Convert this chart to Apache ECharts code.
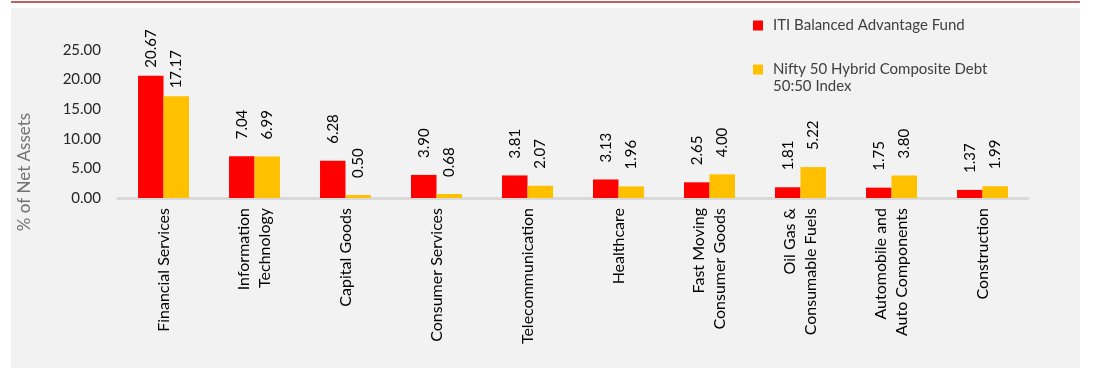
<!DOCTYPE html>
<html>
<head>
<meta charset="utf-8">
<script src="https://cdn.jsdelivr.net/npm/echarts@6/dist/echarts.min.js"></script>
<style>
html,body{margin:0;padding:0;background:#fff;}
#c{width:1094px;height:371px;}
</style>
</head>
<body>
<div id="c"></div>
<script>
const categories = [
  'Financial Services',
  'Information\nTechnology',
  'Capital Goods',
  'Consumer Services',
  'Telecommunication',
  'Healthcare',
  'Fast Moving\nConsumer Goods',
  'Oil Gas &\nConsumable Fuels',
  'Automobile and\nAuto Components',
  'Construction'
];
const fundName = 'ITI Balanced Advantage Fund';
const indexName = 'Nifty 50 Hybrid Composite Debt 50:50 Index';
const fundValues = [20.67, 7.04, 6.28, 3.90, 3.81, 3.13, 2.65, 1.81, 1.75, 1.37];
const indexValues = [17.17, 6.99, 0.50, 0.68, 2.07, 1.96, 4.00, 5.22, 3.80, 1.99];
const yTicks = [0, 5, 10, 15, 20, 25];

const FONT = 'Lato';
const chart = echarts.init(document.getElementById('c'), null, {renderer: 'canvas'});

function labelCfg() {
  return {
    show: true,
    position: 'top',
    rotate: 90,
    align: 'left',
    verticalAlign: 'middle',
    distance: 17,
    fontFamily: FONT,
    fontSize: 15,
    color: '#000',
    formatter: p => p.value.toFixed(2)
  };
}

function items(vals) {
  return vals.map((v, i) => i === 0 ? {value: v, label: {distance: 8}} : {value: v});
}

const legendText = {fontFamily: FONT, fontSize: 15, color: '#404040', lineHeight: 17};

chart.setOption({
  animation: false,
  graphic: [
    {type: 'rect', silent: true, z: -10, shape: {x: 11, y: 8, width: 1069, height: 360}, style: {fill: '#f2f2f2'}},
    {type: 'line', silent: true, shape: {x1: 11, y1: 2, x2: 1080, y2: 2}, style: {stroke: '#b0282e', lineWidth: 1.5}},
    {type: 'text', silent: true, x: 25, y: 172, rotation: Math.PI / 2,
      style: {text: '% of Net Assets', fill: '#737373', font: '17px ' + FONT, align: 'center', verticalAlign: 'middle'}}
  ],
  legend: [
    {
      data: [fundName], orient: 'vertical', left: 753, top: 17, padding: 0,
      itemWidth: 15, itemHeight: 10, itemGap: 10,
      icon: 'path://M0,0L10,0L10,10L0,10Z M15,9.99L15,10',
      textStyle: legendText
    },
    {
      data: [indexName], orient: 'vertical', left: 753, top: 61, padding: 0,
      itemWidth: 15, itemHeight: 27, itemGap: 10,
      icon: 'path://M0,0L10,0L10,10L0,10Z M15,26.99L15,27',
      formatter: n => n.replace(' 50:50', '\n50:50'),
      textStyle: legendText
    }
  ],
  grid: {left: 118, right: 66, top: 50, bottom: 173, containLabel: false},
  xAxis: {
    type: 'category',
    data: categories,
    axisLine: {show: true, lineStyle: {color: '#d9d9d9', width: 3}},
    axisTick: {show: false},
    axisLabel: {
      interval: 0, rotate: 90, margin: 10,
      fontFamily: FONT, fontSize: 16, color: '#000', lineHeight: 21
    }
  },
  yAxis: {
    type: 'value',
    min: 0, max: 25, interval: 5,
    axisLine: {show: false},
    axisTick: {show: false},
    splitLine: {show: false},
    axisLabel: {
      margin: 17, fontFamily: FONT, fontSize: 15, color: '#262626',
      formatter: v => yTicks.includes(v) ? v.toFixed(2) : ''
    }
  },
  series: [
    {
      name: fundName, type: 'bar', data: items(fundValues),
      barWidth: '28%', barGap: '0%',
      itemStyle: {color: '#ff0000'},
      label: labelCfg()
    },
    {
      name: indexName, type: 'bar', data: items(indexValues),
      barWidth: '28%', barGap: '0%',
      itemStyle: {color: '#ffc000'},
      label: labelCfg()
    }
  ]
});
</script>
</body>
</html>
